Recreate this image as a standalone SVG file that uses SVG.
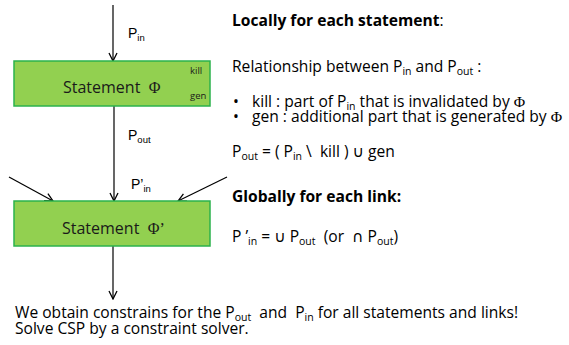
<svg xmlns="http://www.w3.org/2000/svg" width="569" height="345" viewBox="0 0 569 345">
  <defs>
    <marker id="arrow" viewBox="0 0 10 10" refX="9" refY="5" markerWidth="10" markerHeight="10" markerUnits="userSpaceOnUse" orient="auto">
      <path d="M1,1 L9,5 L1,9" fill="none" stroke="#000" stroke-width="1.3"/>
    </marker>
    <style>
      text { white-space: pre; }
      .box { fill: #92d050; stroke: #2bb24c; stroke-width: 1.5; }
      .lbl { font-family: "Open Sans", "DejaVu Sans", sans-serif; fill: #1a1a1a; }
      .edge { font-family: "Liberation Sans", Arial, sans-serif; fill: #000; font-size: 14px; }
      .txt { font-family: "Open Sans", "DejaVu Sans", sans-serif; fill: #000; font-size: 15.6px; }
      .sub { font-size: 10.5px; }
      .sym { font-family: "Liberation Serif", "Times New Roman", serif; }
      .conn line { stroke: #000; stroke-width: 1.2; marker-end: url(#arrow); }
    </style>
  </defs>

  <rect width="569" height="345" fill="#fff"/>

  <!-- connectors -->
  <g id="connectors" class="conn">
    <line x1="113" y1="5" x2="113" y2="61"/>
    <line x1="114" y1="106" x2="114" y2="201"/>
    <line x1="9" y1="177" x2="53" y2="201"/>
    <line x1="227" y1="177" x2="178" y2="201"/>
    <line x1="113" y1="246" x2="113" y2="299"/>
  </g>

  <!-- connector labels -->
  <g id="edge-labels" class="edge">
    <text x="128" y="38">P<tspan font-size="9.5" dy="3">in</tspan></text>
    <text x="128" y="140">P<tspan font-size="9.5" dy="3">out</tspan></text>
    <text x="131" y="189">P’<tspan font-size="9.5" dy="3">in</tspan></text>
  </g>

  <!-- statement nodes -->
  <g id="stmt1">
    <rect class="box" x="14" y="61" width="196" height="45"/>
    <text class="lbl" x="63" y="93" font-size="16">Statement  <tspan class="sym">Φ</tspan></text>
    <text class="lbl" x="190" y="74" font-size="9.5">kill</text>
    <text class="lbl" x="190" y="99" font-size="9.5">gen</text>
  </g>

  <g id="stmt2">
    <rect class="box" x="14" y="201" width="196" height="45"/>
    <text class="lbl" x="62" y="234" font-size="16">Statement  <tspan class="sym">Φ’</tspan></text>
  </g>

  <!-- explanation text -->
  <g id="notes" class="txt">
    <text x="232" y="26" font-weight="bold">Locally for each statement<tspan font-weight="normal">:</tspan></text>
    <text x="232" y="72">Relationship between P<tspan class="sub" dy="3">in</tspan><tspan dy="-3"> and P</tspan><tspan class="sub" dy="3">out</tspan><tspan dy="-3"> :</tspan></text>
    <text x="233" y="107">•</text>
    <text x="252" y="107">kill : part of P<tspan class="sub" dy="3">in</tspan><tspan dy="-3"> that is invalidated by </tspan><tspan class="sym">Φ</tspan></text>
    <text x="233" y="122">•</text>
    <text x="252" y="122">gen : additional part that is generated by <tspan class="sym">Φ</tspan></text>
    <text x="232" y="157">P<tspan class="sub" dy="3">out</tspan><tspan dy="-3"> = ( P</tspan><tspan class="sub" dy="3">in</tspan><tspan dy="-3"> \  kill ) ∪ gen</tspan></text>
    <text x="232" y="202" font-weight="bold">Globally for each link:</text>
    <text x="232" y="242">P ’<tspan class="sub" dy="3">in</tspan><tspan dy="-3"> = ∪ P</tspan><tspan class="sub" dy="3">out</tspan><tspan dy="-3">  (or  ∩ P</tspan><tspan class="sub" dy="3">out</tspan><tspan dy="-3">)</tspan></text>
  </g>

  <g id="summary" class="txt">
    <text x="15" y="318">We obtain constrains for the P<tspan class="sub" dy="3">out</tspan><tspan dy="-3">  and  P</tspan><tspan class="sub" dy="3">in</tspan><tspan dy="-3"> for all statements and links!</tspan></text>
    <text x="15" y="334">Solve CSP by a constraint solver.</text>
  </g>
</svg>
